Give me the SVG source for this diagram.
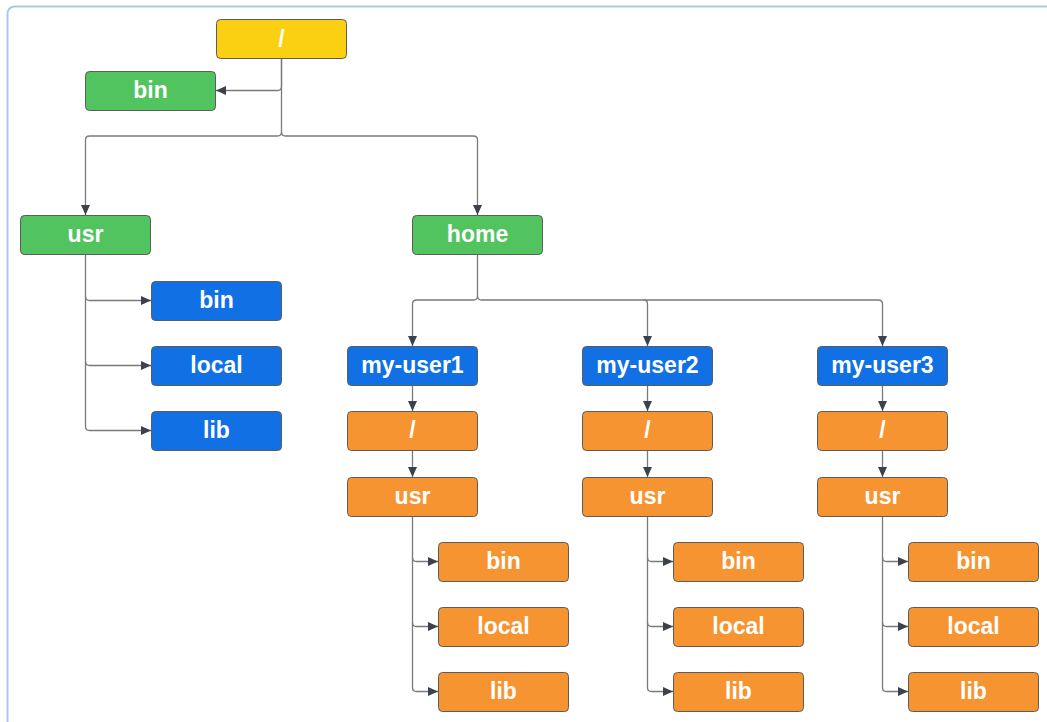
<svg xmlns="http://www.w3.org/2000/svg" width="1047" height="722" viewBox="0 0 1047 722">
  <style>
    .box { stroke: #5c5c5c; stroke-width: 1; }
    .yellow { fill: #fbd012; }
    .green { fill: #51c35f; }
    .blue { fill: #1070e4; }
    .orange { fill: #f79432; }
    .label { fill: #ffffff; font-family: "Liberation Sans", Arial, sans-serif; font-weight: bold; font-size: 23px; text-anchor: middle; }
    .wire { fill: none; stroke: #7a7a7a; stroke-width: 1.3; }
  </style>
  <defs>
    <marker id="arrow" markerUnits="userSpaceOnUse" markerWidth="11" markerHeight="9" refX="10" refY="4.5" orient="auto">
      <path d="M0,0 L10,4.5 L0,9 z" fill="#3b424b"/>
    </marker>
  </defs>

  <rect width="1047" height="722" fill="#ffffff"/>
  <!-- page frame -->
  <rect x="7.5" y="6.5" width="1100" height="800" rx="7" fill="none" stroke="#a7c9eb" stroke-width="2"/>

  <!-- connectors -->
  <g id="connectors" class="wire" marker-end="url(#arrow)">
    <path d="M281.5,58 V86.5 Q281.5,90.5 277.5,90.5 H216"/>
    <path d="M281.5,58 V132 Q281.5,136 277.5,136 H89.5 Q85.5,136 85.5,140 V215"/>
    <path d="M281.5,132 Q281.5,136 285.5,136 H473.5 Q477.5,136 477.5,140 V215"/>

    <path d="M85.5,254 V296.5 Q85.5,300.5 89.5,300.5 H151"/>
    <path d="M85.5,296 V361.5 Q85.5,365.5 89.5,365.5 H151"/>
    <path d="M85.5,361 V426.5 Q85.5,430.5 89.5,430.5 H151"/>

    <path d="M477.5,254 V296 Q477.5,300 473.5,300 H416.5 Q412.5,300 412.5,304 V346"/>
    <path d="M477.5,296 Q477.5,300 481.5,300 H643.5 Q647.5,300 647.5,304 V346"/>
    <path d="M643.5,300 H878.5 Q882.5,300 882.5,304 V346"/>

    <path d="M412.5,385 V411"/>
    <path d="M412.5,450 V477"/>
    <path d="M412.5,516 V557.5 Q412.5,561.5 416.5,561.5 H438"/>
    <path d="M412.5,557 V622.5 Q412.5,626.5 416.5,626.5 H438"/>
    <path d="M412.5,622 V687.5 Q412.5,691.5 416.5,691.5 H438"/>

    <path d="M647.5,385 V411"/>
    <path d="M647.5,450 V477"/>
    <path d="M647.5,516 V557.5 Q647.5,561.5 651.5,561.5 H673"/>
    <path d="M647.5,557 V622.5 Q647.5,626.5 651.5,626.5 H673"/>
    <path d="M647.5,622 V687.5 Q647.5,691.5 651.5,691.5 H673"/>

    <path d="M882.5,385 V411"/>
    <path d="M882.5,450 V477"/>
    <path d="M882.5,516 V557.5 Q882.5,561.5 886.5,561.5 H908"/>
    <path d="M882.5,557 V622.5 Q882.5,626.5 886.5,626.5 H908"/>
    <path d="M882.5,622 V687.5 Q882.5,691.5 886.5,691.5 H908"/>
  </g>

  <!-- root and top level -->
  <g id="root"><rect class="box yellow" x="216.5" y="19.5" width="130" height="39" rx="4"/><text class="label" x="281.5" y="47">/</text></g>
  <g id="bin"><rect class="box green" x="85.5" y="71.5" width="130" height="39" rx="4"/><text class="label" x="150.5" y="98">bin</text></g>
  <g id="usr"><rect class="box green" x="20.5" y="215.5" width="130" height="39" rx="4"/><text class="label" x="85.5" y="242">usr</text></g>
  <g id="home"><rect class="box green" x="412.5" y="215.5" width="130" height="39" rx="4"/><text class="label" x="477.5" y="242">home</text></g>

  <!-- /usr children -->
  <g id="usr-bin"><rect class="box blue" x="151.5" y="281.5" width="130" height="39" rx="4"/><text class="label" x="216.5" y="308">bin</text></g>
  <g id="usr-local"><rect class="box blue" x="151.5" y="346.5" width="130" height="39" rx="4"/><text class="label" x="216.5" y="373">local</text></g>
  <g id="usr-lib"><rect class="box blue" x="151.5" y="411.5" width="130" height="39" rx="4"/><text class="label" x="216.5" y="438">lib</text></g>

  <!-- user 1 -->
  <g id="user1"><rect class="box blue" x="347.5" y="346.5" width="130" height="39" rx="4"/><text class="label" x="412.5" y="373">my-user1</text></g>
  <g id="user1-root"><rect class="box orange" x="347.5" y="411.5" width="130" height="39" rx="4"/><text class="label" x="412.5" y="438">/</text></g>
  <g id="user1-usr"><rect class="box orange" x="347.5" y="477.5" width="130" height="39" rx="4"/><text class="label" x="412.5" y="504">usr</text></g>
  <g id="user1-bin"><rect class="box orange" x="438.5" y="542.5" width="130" height="39" rx="4"/><text class="label" x="503.5" y="569">bin</text></g>
  <g id="user1-local"><rect class="box orange" x="438.5" y="607.5" width="130" height="39" rx="4"/><text class="label" x="503.5" y="634">local</text></g>
  <g id="user1-lib"><rect class="box orange" x="438.5" y="672.5" width="130" height="39" rx="4"/><text class="label" x="503.5" y="699">lib</text></g>

  <!-- user 2 -->
  <g id="user2"><rect class="box blue" x="582.5" y="346.5" width="130" height="39" rx="4"/><text class="label" x="647.5" y="373">my-user2</text></g>
  <g id="user2-root"><rect class="box orange" x="582.5" y="411.5" width="130" height="39" rx="4"/><text class="label" x="647.5" y="438">/</text></g>
  <g id="user2-usr"><rect class="box orange" x="582.5" y="477.5" width="130" height="39" rx="4"/><text class="label" x="647.5" y="504">usr</text></g>
  <g id="user2-bin"><rect class="box orange" x="673.5" y="542.5" width="130" height="39" rx="4"/><text class="label" x="738.5" y="569">bin</text></g>
  <g id="user2-local"><rect class="box orange" x="673.5" y="607.5" width="130" height="39" rx="4"/><text class="label" x="738.5" y="634">local</text></g>
  <g id="user2-lib"><rect class="box orange" x="673.5" y="672.5" width="130" height="39" rx="4"/><text class="label" x="738.5" y="699">lib</text></g>

  <!-- user 3 -->
  <g id="user3"><rect class="box blue" x="817.5" y="346.5" width="130" height="39" rx="4"/><text class="label" x="882.5" y="373">my-user3</text></g>
  <g id="user3-root"><rect class="box orange" x="817.5" y="411.5" width="130" height="39" rx="4"/><text class="label" x="882.5" y="438">/</text></g>
  <g id="user3-usr"><rect class="box orange" x="817.5" y="477.5" width="130" height="39" rx="4"/><text class="label" x="882.5" y="504">usr</text></g>
  <g id="user3-bin"><rect class="box orange" x="908.5" y="542.5" width="130" height="39" rx="4"/><text class="label" x="973.5" y="569">bin</text></g>
  <g id="user3-local"><rect class="box orange" x="908.5" y="607.5" width="130" height="39" rx="4"/><text class="label" x="973.5" y="634">local</text></g>
  <g id="user3-lib"><rect class="box orange" x="908.5" y="672.5" width="130" height="39" rx="4"/><text class="label" x="973.5" y="699">lib</text></g>
</svg>
